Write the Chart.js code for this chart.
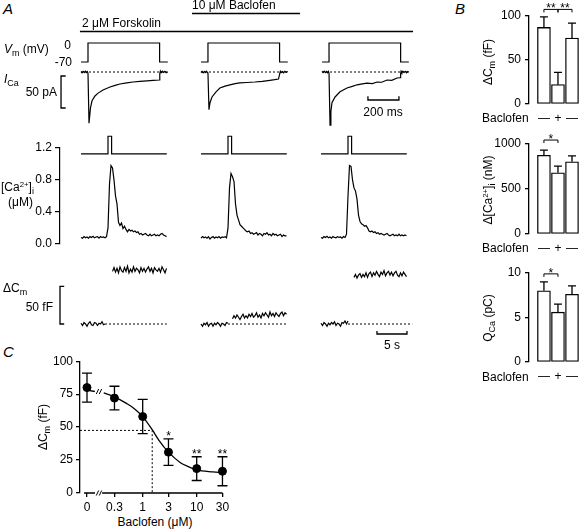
<!DOCTYPE html>
<html>
<head>
<meta charset="utf-8">
<script src="https://cdn.jsdelivr.net/npm/chart.js@4.4.1/dist/chart.umd.min.js"></script>
<style>
  body { margin: 0; background: #fff; }
  #fig { position: relative; width: 585px; height: 529px; overflow: hidden; font-family: 'Liberation Sans', Arial, sans-serif; }
  #fig canvas { position: absolute; }
  .t { position: absolute; font-size: 12px; line-height: 1; white-space: nowrap; color: #000; }
  .t sub { font-size: 0.75em; vertical-align: -0.3em; line-height: 0; }
  .t sup { font-size: 0.65em; vertical-align: 0.5em; line-height: 0; }
  .big { font-size: 15px; font-style: italic; }
</style>
</head>
<body>
<div id="fig">
  <canvas id="a1"></canvas>
  <canvas id="a2"></canvas>
  <canvas id="a3"></canvas>
  <canvas id="b1"></canvas>
  <canvas id="b2"></canvas>
  <canvas id="b3"></canvas>
  <canvas id="c1"></canvas>
</div>
<script>
// ---------- panel A: voltage step and I_Ca (ms from start of step) ----------
const vmTime = [-45, 0, 0, 462, 462, 515];
const vmLevel = [-70, -70, 0, 0, -70, -70];

const icaTimeCtrl = [-45, -38, -31, -24, -17, -10, -4, 0, 6.5, 16, 26, 45, 65, 97, 142, 175, 206, 250, 290, 335, 381, 420, 461, 463, 467, 472, 480, 488, 496, 505, 515];
const icaCtrl = [0.8, -1.2, 1.0, -0.8, 1.2, -1.0, 0.6, -2, -80, -56, -45, -37.5, -33, -28, -23.4, -21, -18.8, -17, -15.6, -14.8, -14, -13.2, -12.5, -3, 1.5, -1, 1.2, -0.8, 1, -1.2, 0.5];
const icaTimeBac = [-45, -38, -31, -24, -17, -10, -4, 0, 6.5, 13, 26, 52, 77, 110, 142, 175, 206, 250, 303, 350, 400, 430, 455, 463, 467, 472, 480, 488, 496, 505, 515];
const icaBac = [-0.8, 1.0, -1.2, 0.8, -1.0, 1.2, -0.6, -2, -59, -48, -39, -31, -25, -22, -20, -18.2, -17, -16.4, -15.6, -14.5, -13, -12, -11, -2.5, 1.2, -1, 0.8, -1.2, 1, -0.6, 0.8];
const icaTimeWash = [-45, -38, -31, -24, -17, -10, -4, 0, 6.5, 12, 19, 39, 71, 116, 150, 181, 215, 245, 280, 310, 340, 374, 405, 439, 458, 462, 465, 470, 476, 484, 492, 500, 508, 515];
const icaWash = [1.0, -0.8, 1.2, -1.0, 0.8, -1.2, 1.0, -2, -83, -62, -48, -39, -31, -25, -22.5, -20, -18.6, -17.5, -18, -15.6, -16, -12.5, -13, -9.4, -9, -3, 1.2, -1, 1.2, -0.8, 1, -1.2, 0.6, -0.5];

// drug application periods (ms, same time base as the first trace)
const baclofenOn = [671, 1368];
const forskolinOn = [-52, 2097];

// ---------- panel A: [Ca2+]i (uM, sampled every 0.25 s) and flash marker ----------
const caStep = 0.25;
const caCtrl = [0.08, 0.07, 0.09, 0.075, 0.085, 0.07, 0.09, 0.08, 0.095, 0.075, 0.085, 0.09, 0.07, 0.09, 0.08, 0.085, 0.075, 0.09,
  0.2, 0.75, 0.98, 0.95, 0.8, 0.6, 0.5, 0.27, 0.23, 0.26,
  0.19, 0.22, 0.18, 0.15, 0.18, 0.16, 0.17, 0.15, 0.16, 0.14,
  0.15, 0.12, 0.13, 0.11, 0.12, 0.13, 0.11, 0.1, 0.12, 0.1,
  0.11, 0.12, 0.1, 0.11, 0.1, 0.12, 0.13, 0.11, 0.1, 0.09];
const caBac = [0.07, 0.09, 0.075, 0.085, 0.07, 0.09, 0.06, 0.08, 0.09, 0.07, 0.085, 0.075, 0.09, 0.07, 0.085, 0.08, 0.09, 0.075,
  0.2, 0.7, 0.88, 0.84, 0.78, 0.5, 0.36, 0.3, 0.24, 0.22,
  0.2, 0.18, 0.16, 0.15, 0.16, 0.13, 0.14, 0.12, 0.13, 0.14,
  0.11, 0.13, 0.12, 0.1, 0.13, 0.12, 0.14, 0.11, 0.12, 0.1,
  0.13, 0.11, 0.12, 0.1, 0.11, 0.12, 0.09, 0.11, 0.1, 0.1];
const caWash = [0.08, 0.07, 0.09, 0.08, 0.095, 0.075, 0.085, 0.07, 0.09, 0.08, 0.075, 0.09, 0.08, 0.085, 0.07, 0.09, 0.08,
  0.12, 0.6, 0.98, 0.97, 0.8, 0.7, 0.66, 0.56, 0.36, 0.28,
  0.25, 0.24, 0.22, 0.23, 0.2, 0.16, 0.15, 0.16, 0.14, 0.15,
  0.13, 0.14, 0.12, 0.13, 0.12, 0.11, 0.12, 0.13, 0.11, 0.1,
  0.11, 0.12, 0.1, 0.11, 0.1, 0.12, 0.1, 0.11, 0.1, 0.11, 0.1];
const flashTime = [0, 4.5, 4.5, 5.1, 5.1, 14.3];
const flashLevel = [0, 0, 1, 1, 0, 0];

// ---------- panel A: delta Cm (fF, sampled every 0.25 s) ----------
const cmPreCtrl = [1, -2, 2, 0, -3, 1, 3, -1, -2, 2, 1, -2, 1, 0, 3, -1, 0];
const cmPostCtrl = [70, 75, 69, 74, 68, 76, 71, 69, 75, 70, 77, 68, 73, 69, 76, 70, 74, 72, 68, 75, 70, 74, 69, 73, 76, 70, 74, 68, 75, 72, 70, 74, 69, 76, 72, 68, 74];
const cmPreBac = [0, -3, 1, -1, 2, -3, 0, 1, -3, 1, -1, 2, 0, -3, 1, 0, -2, 2, 1];
const cmPostBac = [7, 11, 8, 12, 9, 6, 10, 13, 8, 11, 8, 13, 10, 14, 9, 11, 15, 9, 12, 8, 14, 11, 15, 12, 9, 16, 11, 14, 10, 15, 12, 10, 14, 16, 11, 15, 13];
const cmPreWash = [1, -2, 2, 0, -3, 1, -1, 2, 0, 3, -2, 1, 0, -3, 2, 1, 4, 0, 4];
const cmPostWash = [62, 66, 61, 65, 67, 62, 66, 63, 68, 62, 67, 69, 63, 68, 65, 70, 66, 63, 69, 66, 71, 64, 68, 70, 65, 69, 64, 68, 70, 65, 63, 68, 64, 69, 66, 63];
const cmPostStart = [5.25, 5.25, 5.5];
const cmBaseEnd = [14.3, 14.5, 15.2];

// scale bars
const paScale = 50, msScale = 200, fFScale = 50, sScale = 5;

// ---------- panel B ----------
const bSigns = ['\u2014', '+', '\u2014'];
const bCm = [87, 22, 75], bCmErr = [12, 14, 17];
const bCa = [875, 681, 803], bCaErr = [58, 74, 64];
const bQ = [8.0, 5.6, 7.6], bQErr = [1.0, 0.9, 0.95];

// ---------- panel C ----------
const doseConc = [0, 0.3, 1, 3, 10, 30];
const doseLabels = ['0', '0.3', '1', '3', '10', '30'];
const doseMean = [80, 72, 58, 31, 18.5, 16.5];
const doseSem = [11, 9, 13, 10, 9, 11];
const doseSig = ['', '', '', '*', '**', '**'];
const fitConc = [0.19, 0.3, 0.5, 0.7, 1, 1.5, 2, 3, 5, 7, 10, 20, 30];
const fitCm = [76, 73, 68, 64, 58, 48, 40, 31, 23, 20, 17.5, 16, 15.5];
const plateauCm = [78, 77];
const ic50 = 1.5, halfCm = 47.5;

// ---------- layout ----------
const fig = document.getElementById('fig');
const FONT = "'Liberation Sans', Arial, sans-serif";
Chart.defaults.font.family = FONT;
Chart.defaults.font.size = 12;
Chart.defaults.color = '#000';
Chart.defaults.animation = false;
Chart.defaults.responsive = false;
Chart.defaults.devicePixelRatio = 1;
Chart.defaults.plugins.legend.display = false;
Chart.defaults.plugins.tooltip.enabled = false;

function place(id, left, top, w, h) {
  const c = document.getElementById(id);
  c.width = w; c.height = h;
  c.style.left = left + 'px'; c.style.top = top + 'px';
  c.style.width = w + 'px'; c.style.height = h + 'px';
  return c;
}
function xRange(left, right, pRef, vRef, k) { return { min: vRef - (pRef - left) / k, max: vRef + (right - pRef) / k }; }
function yRange(top, bottom, pRef, vRef, k) { return { min: vRef - (bottom - pRef) / k, max: vRef + (pRef - top) / k }; }
const pts = (ts, vs, off = 0) => ts.map((t, i) => ({ x: t + off, y: vs[i] }));
const sampled = (vs, dt, t0) => vs.map((v, i) => ({ x: t0 + i * dt, y: v }));
function trace(data, axis, extra) {
  return Object.assign({ data, yAxisID: axis, borderColor: '#000', borderWidth: 1.2, pointRadius: 0, fill: false, tension: 0 }, extra || {});
}
const dotted = { borderDash: [2, 2], borderWidth: 1 };
const hidden = { display: false };

function label(html, x, y, align, cls, rotate) {
  const d = document.createElement('div');
  d.className = 't ' + (cls || '');
  d.innerHTML = html;
  d.style.left = x + 'px'; d.style.top = y + 'px';
  const tx = align === 'center' ? '-50%' : align === 'right' ? '-100%' : '0';
  d.style.transform = 'translate(' + tx + ', -50%)' + (rotate ? ' rotate(-90deg)' : '');
  fig.appendChild(d);
}

// ---------- A1: Vm and I_Ca ----------
const msOffset = [0, 774, 1555];
const icaTimes = [icaTimeCtrl, icaTimeBac, icaTimeWash];
const icaVals = [icaCtrl, icaBac, icaWash];
const a1Sets = [];
msOffset.forEach((off, c) => {
  const ts = icaTimes[c];
  a1Sets.push(trace(pts(vmTime, vmLevel, off), 'yv'));
  a1Sets.push(trace(pts([ts[0], ts[ts.length - 1]], [0, 0], off), 'yi', dotted));
  a1Sets.push(trace(pts(ts, icaVals[c], off), 'yi'));
});
const PA_BAR_T = -174, PA_BAR_TOP = -6.25;
a1Sets.push(trace(pts([PA_BAR_T + 30, PA_BAR_T, PA_BAR_T, PA_BAR_T + 30],
  [PA_BAR_TOP, PA_BAR_TOP, PA_BAR_TOP - paScale, PA_BAR_TOP - paScale]), 'yi', { borderWidth: 1.3 }));
const MS_BAR_T = 1806, MS_BAR_Y = -43.75;
a1Sets.push(trace(pts([MS_BAR_T, MS_BAR_T, MS_BAR_T + msScale, MS_BAR_T + msScale],
  [MS_BAR_Y + 6, MS_BAR_Y, MS_BAR_Y, MS_BAR_Y + 6]), 'yi', { borderWidth: 1.3 }));

const drugLines = {
  id: 'drugLines',
  afterDatasetsDraw(chart, args, opts) {
    const { ctx, scales: { x } } = chart;
    ctx.save();
    ctx.strokeStyle = '#000'; ctx.lineWidth = 1.3;
    opts.items.forEach(d => {
      ctx.beginPath();
      ctx.moveTo(x.getPixelForValue(d.on[0]), d.y);
      ctx.lineTo(x.getPixelForValue(d.on[1]), d.y);
      ctx.stroke();
    });
    ctx.restore();
  }
};

new Chart(place('a1', 55, 0, 360, 132), {
  type: 'line',
  data: { datasets: a1Sets },
  options: {
    scales: {
      x: Object.assign({ type: 'linear' }, hidden, xRange(55, 415, 88, 0, 0.155)),
      yv: Object.assign({ axis: 'y' }, hidden, yRange(0, 132, 43, 0, 19 / 70)),
      yi: Object.assign({ axis: 'y' }, hidden, yRange(0, 132, 72, 0, 0.64))
    },
    plugins: { drugLines: { items: [{ on: baclofenOn, y: 13.5 }, { on: forskolinOn, y: 31.5 }] } }
  },
  plugins: [drugLines]
});

// ---------- A2: [Ca2+]i ----------
const sOffset = [0, 20, 40];
const caVals = [caCtrl, caBac, caWash];
const a2Sets = [];
sOffset.forEach((off, c) => {
  a2Sets.push(trace(pts(flashTime, flashLevel, off), 'ys', { clip: false }));
  a2Sets.push(trace(sampled(caVals[c], caStep, off), 'y'));
});
new Chart(place('a2', 20, 130, 395, 124), {
  type: 'line',
  data: { datasets: a2Sets },
  options: {
    layout: { padding: { top: 18, bottom: 8 } },
    scales: {
      x: Object.assign({ type: 'linear' }, hidden, xRange(60, 415, 81, 0, 6)),
      y: {
        min: 0, max: 1.2,
        afterFit: s => { s.width = 40; },
        ticks: { stepSize: 0.4, padding: 3, callback: v => v.toFixed(1) },
        grid: { drawOnChartArea: false, tickLength: 5, color: '#000', lineWidth: 1.2 },
        border: { color: '#000', width: 1.2 }
      },
      ys: Object.assign({ axis: 'y' }, hidden, yRange(148, 246, 154, 0, 18))
    }
  }
});

// ---------- A3: delta Cm ----------
const cmPre = [cmPreCtrl, cmPreBac, cmPreWash];
const cmPost = [cmPostCtrl, cmPostBac, cmPostWash];
const a3Sets = [];
sOffset.forEach((off, c) => {
  const preEnd = (cmPre[c].length - 1) * caStep;
  a3Sets.push(trace(sampled(cmPre[c], caStep, off), 'y'));
  a3Sets.push(trace(pts([preEnd, cmBaseEnd[c]], [0, 0], off), 'y', dotted));
  a3Sets.push(trace(sampled(cmPost[c], caStep, off + cmPostStart[c]), 'y'));
});
const FF_BAR_T = -3.5;
a3Sets.push(trace(pts([FF_BAR_T + 0.7, FF_BAR_T, FF_BAR_T, FF_BAR_T + 0.7], [fFScale, fFScale, 0, 0]), 'y', { borderWidth: 1.3 }));
const S_BAR_T = 49.33, S_BAR_Y = -13.3;
a3Sets.push(trace(pts([S_BAR_T, S_BAR_T, S_BAR_T + sScale, S_BAR_T + sScale], [S_BAR_Y + 4, S_BAR_Y, S_BAR_Y, S_BAR_Y + 4]), 'y', { borderWidth: 1.3 }));
new Chart(place('a3', 55, 262, 360, 76), {
  type: 'line',
  data: { datasets: a3Sets },
  options: {
    scales: {
      x: Object.assign({ type: 'linear' }, hidden, xRange(55, 415, 81, 0, 6)),
      y: Object.assign({}, hidden, yRange(262, 338, 324, 0, 0.752))
    }
  }
});

// ---------- B: bar charts ----------
const barMarks = {
  id: 'barMarks',
  afterDatasetsDraw(chart, args, o) {
    const { ctx, scales: { x, y } } = chart;
    ctx.save();
    ctx.strokeStyle = '#000'; ctx.fillStyle = '#000'; ctx.lineWidth = 1.3;
    ctx.beginPath();
    o.means.forEach((m, i) => {
      const px = x.getPixelForValue(i + 1);
      const y0 = y.getPixelForValue(m), y1 = y.getPixelForValue(m + o.errs[i]);
      ctx.moveTo(px, y0); ctx.lineTo(px, y1);
      ctx.moveTo(px - 4, y1); ctx.lineTo(px + 4, y1);
    });
    ctx.stroke();
    ctx.lineWidth = 1;
    ctx.font = '12px ' + FONT; ctx.textAlign = 'center'; ctx.textBaseline = 'alphabetic';
    o.brackets.forEach(b => {
      const xa = x.getPixelForValue(b.from), xb = x.getPixelForValue(b.to), yb = y.getPixelForValue(b.level);
      ctx.beginPath();
      ctx.moveTo(xa, yb + 3); ctx.lineTo(xa, yb); ctx.lineTo(xb, yb); ctx.lineTo(xb, yb + 3);
      ctx.stroke();
      ctx.fillText(b.label, (xa + xb) / 2, yb + 3);
    });
    ctx.restore();
  }
};

function barPanel(id, top, axisTop, axisBottom, means, errs, yMax, step, brackets) {
  new Chart(place(id, 489, top, 96, axisBottom - top + 22), {
    type: 'bar',
    data: { datasets: [{ data: means.map((m, i) => ({ x: i + 1, y: m })), backgroundColor: '#fff', borderColor: '#000', borderWidth: 1.3, borderSkipped: false, barThickness: 13 }] },
    options: {
      layout: { padding: { top: axisTop - top } },
      scales: {
        x: Object.assign({
          type: 'linear', offset: false,
          afterBuildTicks: a => { a.ticks = bSigns.map((s, i) => ({ value: i + 1 })); },
          afterFit: s => { s.height = 22; },
          ticks: { callback: (v, i) => bSigns[i], padding: 7, autoSkip: false, maxRotation: 0 },
          grid: { display: false, drawTicks: false },
          border: { display: false }
        }, xRange(529, 585, 545.5, 1, 15.5)),
        y: {
          min: 0, max: yMax,
          afterFit: s => { s.width = 40; },
          ticks: { stepSize: step, padding: 4, callback: v => String(v) },
          grid: { drawOnChartArea: false, tickLength: 4, color: '#000', lineWidth: 1.3 },
          border: { color: '#000', width: 1.3 }
        }
      },
      plugins: { barMarks: { means, errs, brackets } }
    },
    plugins: [barMarks]
  });
}
barPanel('b1', 0, 16, 104, bCm, bCmErr, 100, 50, [{ from: 1, to: 2, level: 107.5, label: '**' }, { from: 2, to: 3, level: 107.5, label: '**' }]);
barPanel('b2', 128, 144, 234, bCa, bCaErr, 1000, 500, [{ from: 1, to: 2, level: 1044, label: '*' }]);
barPanel('b3', 257, 273, 362, bQ, bQErr, 10, 5, [{ from: 1, to: 2, level: 9.9, label: '*' }]);

// ---------- C: dose response ----------
const ZERO_POS = 0.093, BREAK_AT = 0.155;
const AXIS_PARTS = [[0.082, 0.131], [0.177, 30]];
const doseX = doseConc.map(c => (c === 0 ? ZERO_POS : c));
const cMin = Math.pow(10, (80 - 142.7) / 54), cMax = Math.pow(10, (230 - 142.7) / 54);

const doseMarks = {
  id: 'doseMarks',
  afterDatasetsDraw(chart) {
    const { ctx, scales: { x, y } } = chart;
    ctx.save();
    ctx.strokeStyle = '#000'; ctx.fillStyle = '#000'; ctx.lineWidth = 1.3;
    const y0 = y.getPixelForValue(0);
    ctx.beginPath();
    AXIS_PARTS.forEach(([a, b]) => { ctx.moveTo(x.getPixelForValue(a), y0); ctx.lineTo(x.getPixelForValue(b), y0); });
    doseX.forEach((c, i) => {
      const px = x.getPixelForValue(c);
      const lo = y.getPixelForValue(doseMean[i] - doseSem[i]), hi = y.getPixelForValue(doseMean[i] + doseSem[i]);
      ctx.moveTo(px, lo); ctx.lineTo(px, hi);
      ctx.moveTo(px - 5, lo); ctx.lineTo(px + 5, lo);
      ctx.moveTo(px - 5, hi); ctx.lineTo(px + 5, hi);
    });
    ctx.stroke();
    ctx.lineWidth = 1;
    [0, plateauCm[1]].forEach(v => {
      const bx = x.getPixelForValue(BREAK_AT), by = y.getPixelForValue(v);
      ctx.beginPath();
      [-1.5, 1.5].forEach(d => { ctx.moveTo(bx + d - 1.2, by + 2.5); ctx.lineTo(bx + d + 1.2, by - 2.5); });
      ctx.stroke();
    });
    ctx.font = '12px ' + FONT; ctx.textAlign = 'center'; ctx.textBaseline = 'alphabetic';
    doseSig.forEach((s, i) => {
      if (!s) return;
      ctx.fillText(s, x.getPixelForValue(doseX[i]), y.getPixelForValue(doseMean[i] + doseSem[i]) + 1);
    });
    ctx.restore();
  }
};

new Chart(place('c1', 50, 351, 190, 162), {
  type: 'line',
  data: {
    datasets: [
      trace(pts([ZERO_POS, 0.13], plateauCm), 'y', { borderWidth: 1.3 }),
      trace(pts(fitConc, fitCm), 'y', { borderWidth: 1.3, cubicInterpolationMode: 'monotone' }),
      trace(pts([cMin, ic50, ic50], [halfCm, halfCm, 0]), 'y', dotted),
      trace(pts(doseX, doseMean), 'y', { showLine: false, pointRadius: 4, pointBackgroundColor: '#000', pointBorderColor: '#000', pointBorderWidth: 1 })
    ]
  },
  options: {
    layout: { padding: { top: 10, right: 10 } },
    scales: {
      x: {
        type: 'logarithmic', min: cMin, max: cMax,
        afterBuildTicks: a => { a.ticks = doseX.map(v => ({ value: v })); },
        afterFit: s => { s.height = 20; },
        ticks: { callback: (v, i) => doseLabels[i], autoSkip: false, maxRotation: 0, padding: 3 },
        grid: { drawOnChartArea: false, tickLength: 4, color: '#000', lineWidth: 1.3 },
        border: { display: false }
      },
      y: {
        min: 0, max: 100,
        afterFit: s => { s.width = 30; },
        ticks: { stepSize: 25, padding: 3 },
        grid: { drawOnChartArea: false, tickLength: 4, color: '#000', lineWidth: 1.3 },
        border: { color: '#000', width: 1.3 }
      }
    }
  },
  plugins: [doseMarks]
});

// ---------- text ----------
label('A', 3, 8, 'left', 'big');
label('B', 455, 8, 'left', 'big');
label('C', 3, 351, 'left', 'big');
label('10 \u03bcM Baclofen', 192, 5);
label('2 \u03bcM Forskolin', 82, 23);
label('<i>V</i><sub>m</sub> (mV)', 4, 49);
label('0', 71, 45, 'right');
label('-70', 72, 62, 'right');
label('<i>I</i><sub>Ca</sub>', 4, 79);
label('50 pA', 57, 92, 'right');
label('200 ms', 383, 112, 'center');
label('[Ca<sup>2+</sup>]<sub>i</sub>', 1, 187);
label('(\u03bcM)', 8, 202);
label('\u0394C<sub>m</sub>', 3, 288);
label('50 fF', 53, 307, 'right');
label('5 s', 392, 345, 'center');
label('Baclofen', 482, 118);
label('Baclofen', 482, 248);
label('Baclofen', 482, 377);
label('\u0394C<sub>m</sub> (fF)', 488, 62, 'center', '', true);
label('\u0394[Ca<sup>2+</sup>]<sub>i</sub> (nM)', 488, 190, 'center', '', true);
label('Q<sub>Ca</sub> (pC)', 488, 318, 'center', '', true);
label('\u0394C<sub>m</sub> (fF)', 43, 427, 'center', '', true);
label('Baclofen (\u03bcM)', 155, 522, 'center');
</script>
</body>
</html>
